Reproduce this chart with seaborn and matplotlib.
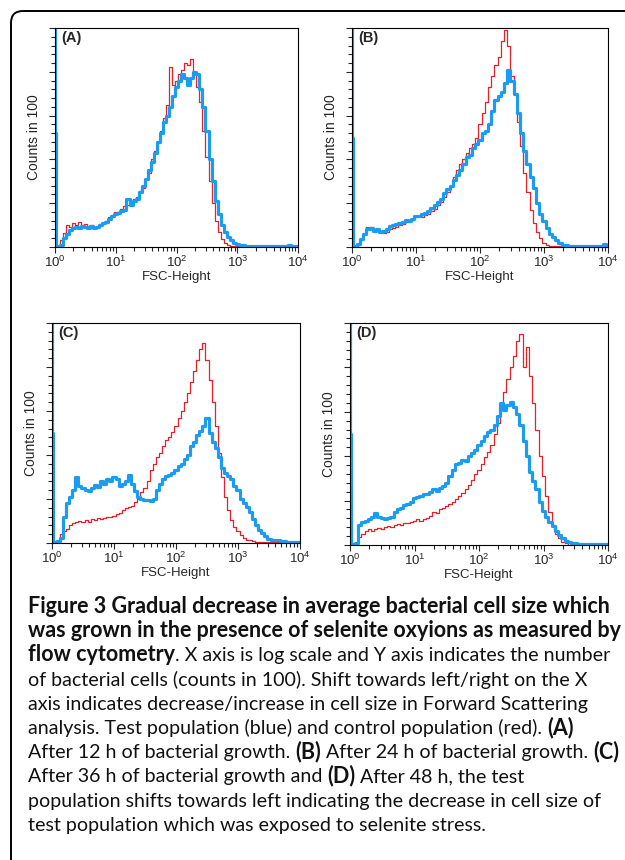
import numpy as np
import pandas as pd
import matplotlib
matplotlib.use('Agg')
import matplotlib.pyplot as plt
import seaborn as sns
from matplotlib import font_manager
from matplotlib.patches import FancyBboxPatch
from matplotlib.ticker import MultipleLocator, LogLocator, NullFormatter

# log10(FSC-Height) channel positions, shared by every histogram
fsc_log = [0.00, 0.01, 0.03,
           0.05, 0.10, 0.15, 0.20, 0.25, 0.30, 0.35, 0.40, 0.45, 0.50,
           0.55, 0.60, 0.65, 0.70, 0.75, 0.80, 0.85, 0.90, 0.95, 1.00,
           1.05, 1.10, 1.15, 1.20, 1.25, 1.30, 1.35, 1.40, 1.45, 1.50,
           1.55, 1.60, 1.65, 1.70, 1.75, 1.80, 1.85, 1.90, 1.95, 2.00,
           2.05, 2.10, 2.15, 2.20, 2.25, 2.30, 2.35, 2.40, 2.45, 2.50,
           2.55, 2.60, 2.65, 2.70, 2.75, 2.80, 2.85, 2.90, 2.95, 3.00,
           3.05, 3.10, 3.15, 3.20, 3.25, 3.30, 3.35, 3.40, 3.45, 3.50,
           3.55, 3.60, 3.65, 3.70, 3.75, 3.80, 3.85, 3.90, 3.95, 4.00]

# counts (in 100) - test population (blue) and control population (red)
a_test = [105, 52, 0.5,
          0, 1, 4, 6, 7.6, 8.5, 9, 8.5, 9.5, 9,
          8.5, 9.5, 8.5, 9, 10, 11, 11.5, 13, 14, 15,
          15.5, 16.5, 17, 22, 19, 21, 22, 25, 28, 31,
          35, 39, 43, 48, 52, 57, 60, 64, 69, 73,
          76, 79, 77, 74, 77, 80, 79, 72, 64, 53,
          40, 30, 21, 15, 10, 7, 4.5, 3, 1.8, 1.2,
          1, 0.8, 0.6, 0.5, 0.6, 0.5, 0.5, 0.4, 0.5, 0.5,
          0.4, 0.6, 0.5, 0.5, 0.4, 0.5, 0.8, 0.5, 0.4, 0.6]
a_control = [0, 0, 0,
             0, 3, 6.5, 10, 9, 11, 10, 11.5, 10, 10.5,
             9.5, 10, 9, 9.5, 10.5, 11, 12, 13.5, 14.5, 16,
             16, 17.5, 18.5, 19, 20, 22, 23, 25.5, 27, 31,
             34, 40, 44, 48, 53, 59, 65, 82, 74, 76,
             79, 81, 84, 83, 86, 79, 73, 66, 53, 41,
             30, 20, 12, 7, 3.5, 2, 1, 0.5, 0.3, 0.3,
             0.3, 0.3, 0.3, 0.3, 0.3, 0.3, 0.3, 0.3, 0.3, 0.3,
             0.3, 0.3, 0.3, 0.3, 0.3, 0.3, 0.3, 0.3, 0.3, 0.3]

b_test = [105, 50, 0.5,
          0, 1.5, 3.5, 6, 8, 8.5, 7.5, 8, 7, 7.5,
          8, 9.5, 10, 10.5, 11, 11.5, 12.5, 12, 13, 14,
          14, 15, 15.5, 16.5, 18, 19, 20.5, 22, 24.5, 26.5,
          28, 30.5, 33, 35, 38, 41, 42, 45, 47, 49,
          52, 53, 56, 62, 67, 69, 71, 75, 81, 76,
          70, 61, 52, 44, 38, 32, 27, 20, 15, 12,
          8.5, 6, 4.5, 3, 2, 1, 0.7, 0.5, 0.5, 0.6,
          0.5, 0.4, 0.5, 0.6, 0.5, 0.4, 0.5, 0.6, 1.5, 0.5]
b_control = [0, 0, 0,
             0, 0.8, 3, 6, 9, 9, 8, 7.5, 7, 6.5,
             7, 8, 8.5, 9, 10, 10.5, 11.5, 12, 12.5, 13.5,
             14, 13.5, 14.5, 15, 16.5, 17.5, 19, 20.5, 23, 25,
             28, 32, 35, 38, 40, 43, 45, 47, 50, 56,
             61, 66, 73, 78, 83, 87, 94, 99, 92, 78,
             70, 57, 46, 34, 25, 17, 11, 7, 4, 2,
             1, 0.5, 0.3, 0.3, 0.3, 0.3, 0.3, 0.3, 0.3, 0.3,
             0.3, 0.3, 0.3, 0.3, 0.3, 0.3, 0.3, 0.3, 0.3, 0.3]

c_test = [105, 50, 0.5,
          0.5, 1, 2.5, 12, 18, 21, 24, 30, 26, 25,
          24, 23.5, 25, 26.5, 25.5, 28, 27, 29, 28, 30,
          29, 26, 27, 28, 31, 27, 23.5, 21, 20, 19.5,
          19.5, 19, 20, 24, 27, 29, 30.5, 31, 32, 33,
          35, 36, 38, 40, 44, 46, 49, 51, 53, 57,
          50, 46, 43, 39, 34, 32, 30.5, 29, 26, 24,
          20, 18, 16.5, 14, 11, 8, 6, 4.5, 3, 2,
          1.5, 1.3, 1.2, 1, 0.8, 0.6, 0.6, 0.5, 0.6, 0.5]
c_control = [0, 0, 0,
             0, 1, 4, 5.5, 6.5, 8, 9, 9.5, 10, 9.5,
             10.5, 9.5, 11, 10.5, 11.5, 11, 11.5, 12, 12, 12.5,
             13, 13.5, 15, 16, 16.5, 17, 18.5, 20, 23, 25,
             28, 33, 36, 39, 41, 44, 47, 48, 50.5, 53,
             57, 60, 64, 68, 73, 78, 83, 88, 91, 83,
             74, 64, 53, 41, 30, 21, 15, 10.5, 7.5, 5.5,
             3.5, 2.2, 1.5, 1.2, 0.8, 0.5, 0.3, 0.3, 0.3, 0.3,
             0.3, 0.3, 0.3, 0.3, 0.3, 0.3, 0.3, 0.3, 0.3, 0.3]

d_test = [105, 50, 0.5,
          0.5, 1, 9, 10.5, 11, 11.5, 12.5, 14.5, 12.5, 12,
          11.5, 12, 12.5, 15, 16, 16.5, 18, 18.5, 19.5, 21,
          21.5, 22, 23, 23, 24, 25, 24.5, 25.5, 26.5, 28,
          31, 34, 36.5, 37, 38.5, 38, 40, 41.5, 43, 45,
          47, 49, 51, 52, 54, 58, 64, 61, 63, 64.5,
          62, 59, 54, 47, 40, 33, 29, 25, 19.5, 15.5,
          12.5, 10.5, 8.5, 6.5, 4.5, 3, 2, 1.5, 1, 0.8,
          0.6, 0.6, 0.5, 0.6, 0.5, 0.5, 0.6, 0.5, 0.5, 0.5]
d_control = [0, 0, 0,
             0, 0.5, 3.5, 5, 6.5, 7, 6.5, 7, 7.5, 7,
             8, 8.5, 8, 9, 9.5, 9, 10, 10, 10.5, 11,
             11.5, 11, 11.5, 12, 13, 15, 14.5, 16, 16.5, 17.5,
             18.5, 19.5, 20.5, 22, 23.5, 25, 27, 29.5, 32, 34,
             36.5, 39.5, 42, 45, 50, 55, 62, 69, 75, 80,
             85, 92, 95, 80, 89, 76, 64, 52, 40, 31,
             22, 15, 9, 5, 3, 1.5, 0.7, 0.2, 0.2, 0.2,
             0.2, 0.2, 0.2, 0.2, 0.2, 0.2, 0.2, 0.2, 0.2, 0.2]

panel_labels = ['(A)', '(B)', '(C)', '(D)']

caption = [
    [('Figure 3 Gradual decrease in average bacterial cell size which', True)],
    [('was grown in the presence of selenite oxyions as measured by', True)],
    [('flow cytometry', True), ('. X axis is log scale and Y axis indicates the number', False)],
    [('of bacterial cells (counts in 100). Shift towards left/right on the X', False)],
    [('axis indicates decrease/increase in cell size in Forward Scattering', False)],
    [('analysis. Test population (blue) and control population (red). ', False), ('(A)', True)],
    [('After 12 h of bacterial growth. ', False), ('(B)', True),
     (' After 24 h of bacterial growth. ', False), ('(C)', True)],
    [('After 36 h of bacterial growth and ', False), ('(D)', True), (' After 48 h, the test', False)],
    [('population shifts towards left indicating the decrease in cell size of', False)],
    [('test population which was exposed to selenite stress.', False)],
]

blue = '#1b9cf0'
red = '#e4222a'

sns.set_style('ticks', {'axes.edgecolor': 'black'})
plt.rcParams['font.family'] = ['Liberation Sans', 'DejaVu Sans']

fig = plt.figure(figsize=(6.25, 8.6), dpi=100)

# background axes in pixel units: frame + caption
bg = fig.add_axes([0, 0, 1, 1], zorder=-1)
bg.set_xlim(0, 625)
bg.set_ylim(860, 0)
bg.axis('off')
bg.add_patch(FancyBboxPatch((11, 11), 680, 900, boxstyle='round,pad=0,rounding_size=12',
                            fill=False, lw=1.4, ec='black'))

positions = [[0.088, 0.7128, 0.389, 0.2546],
             [0.5632, 0.7128, 0.4096, 0.2546],
             [0.0832, 0.3686, 0.3968, 0.2558],
             [0.560, 0.3663, 0.4128, 0.2581]]
series = [(a_test, a_control), (b_test, b_control), (c_test, c_control), (d_test, d_control)]

for label, pos, (test, control) in zip(panel_labels, positions, series):
    ax = fig.add_axes(pos)
    df = pd.DataFrame({'fsc': 10 ** np.array(fsc_log), 'test': test, 'control': control})
    sns.lineplot(data=df, x='fsc', y='control', ax=ax, color=red, linewidth=0.9,
                 drawstyle='steps-mid')
    sns.lineplot(data=df, x='fsc', y='test', ax=ax, color=blue, linewidth=2.3,
                 drawstyle='steps-mid')
    ax.set_xscale('log')
    ax.set_xlim(1, 1e4)
    ax.set_ylim(0, 100)
    ax.xaxis.set_minor_locator(LogLocator(base=10, subs=range(2, 10), numticks=20))
    ax.xaxis.set_minor_formatter(NullFormatter())
    ax.yaxis.set_major_locator(MultipleLocator(20))
    ax.yaxis.set_minor_locator(MultipleLocator(4))
    ax.tick_params(which='major', direction='out', length=4.5, width=0.8, labelsize=9.5, pad=1)
    ax.tick_params(which='minor', direction='out', length=3, width=0.8)
    ax.tick_params(axis='y', labelleft=False)
    for sp in ax.spines.values():
        sp.set_linewidth(0.8)
    ax.set_xlabel('FSC-Height', fontsize=9.5, labelpad=1)
    ax.set_ylabel('Counts in 100', fontsize=10, labelpad=4)
    ax.text(0.025, 0.985, label, transform=ax.transAxes, ha='left', va='top',
            fontsize=10.5, fontweight='bold')


# caption, laid out segment by segment so bold and normal runs can share a line
def has_font(name):
    try:
        font_manager.findfont(font_manager.FontProperties(family=name), fallback_to_default=False)
        return True
    except ValueError:
        return False


normal_font = 'Liberation Sans Narrow' if has_font('Liberation Sans Narrow') else 'Lato'
fonts = {True: ['Lato', 'DejaVu Sans'], False: [normal_font, 'DejaVu Sans']}
renderer = fig.canvas.get_renderer()


def text_width(s, size, bold):
    t = bg.text(0, 0, s, fontsize=size, family=fonts[bold],
                fontweight='bold' if bold else 'normal')
    w = t.get_window_extent(renderer).width
    t.remove()
    return w


sizes = {True: 10 * 585 / text_width(caption[0][0][0], 10, True),
         False: 10 * 559 / text_width(caption[3][0][0], 10, False)}
space_w = {b: text_width('n n', sizes[b], b) - text_width('nn', sizes[b], b) for b in (True, False)}

for i, segs in enumerate(caption):
    x = 28
    y = 613 + 24.2 * i
    for text, bold in segs:
        lead = len(text) - len(text.lstrip(' '))
        trail = len(text) - len(text.rstrip(' '))
        core = text.strip(' ')
        x += lead * space_w[bold]
        bg.text(x, y, core, fontsize=sizes[bold], family=fonts[bold], va='baseline', ha='left',
                fontweight='bold' if bold else 'normal', color='#111111')
        x += text_width(core, sizes[bold], bold) + trail * space_w[bold]

fig.savefig('out.png', dpi=100)
